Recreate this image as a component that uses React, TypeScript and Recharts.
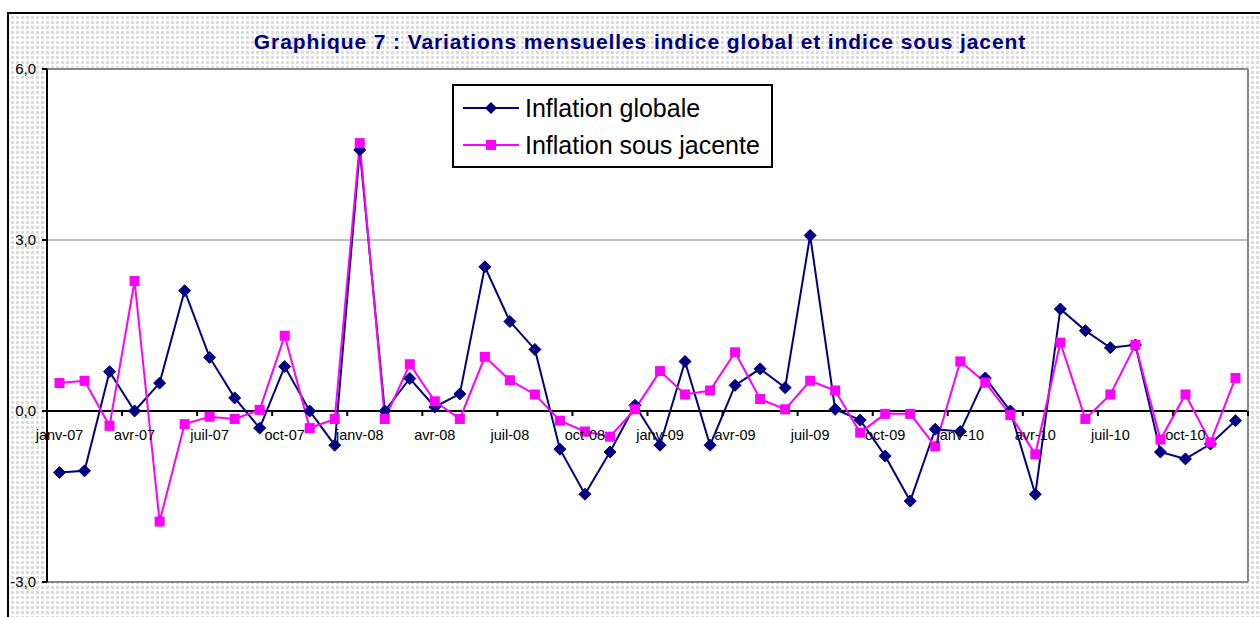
import React from "react";
import {
  LineChart,
  Line,
  XAxis,
  YAxis,
  CartesianGrid,
  ReferenceLine,
  Legend,
} from "recharts";

const months = [
  "janv-07", "févr-07", "mars-07", "avr-07", "mai-07", "juin-07",
  "juil-07", "août-07", "sept-07", "oct-07", "nov-07", "déc-07",
  "janv-08", "févr-08", "mars-08", "avr-08", "mai-08", "juin-08",
  "juil-08", "août-08", "sept-08", "oct-08", "nov-08", "déc-08",
  "janv-09", "févr-09", "mars-09", "avr-09", "mai-09", "juin-09",
  "juil-09", "août-09", "sept-09", "oct-09", "nov-09", "déc-09",
  "janv-10", "févr-10", "mars-10", "avr-10", "mai-10", "juin-10",
  "juil-10", "août-10", "sept-10", "oct-10", "nov-10", "déc-10",
];

const inflationGlobale = [
  -1.08, -1.05, 0.69, 0.0, 0.49, 2.11, 0.94, 0.23, -0.3, 0.78, 0.0, -0.6,
  4.58, 0.0, 0.57, 0.07, 0.3, 2.53, 1.57, 1.08, -0.67, -1.46, -0.72, 0.1,
  -0.6, 0.87, -0.6, 0.45, 0.74, 0.41, 3.08, 0.03, -0.16, -0.79, -1.58, -0.32,
  -0.36, 0.58, 0.0, -1.46, 1.79, 1.41, 1.11, 1.16, -0.72, -0.84, -0.58, -0.17,
];

const inflationSousJacente = [
  0.49, 0.53, -0.26, 2.28, -1.94, -0.23, -0.1, -0.14, 0.02, 1.32, -0.3, -0.14,
  4.7, -0.14, 0.82, 0.17, -0.14, 0.95, 0.54, 0.29, -0.17, -0.36, -0.45, 0.03,
  0.7, 0.29, 0.36, 1.03, 0.21, 0.03, 0.53, 0.36, -0.38, -0.05, -0.05, -0.62,
  0.87, 0.5, -0.07, -0.76, 1.2, -0.14, 0.29, 1.16, -0.5, 0.29, -0.55, 0.58,
];

const yTicks = [-3, 0, 3, 6];

const data = months.map((m, i) => ({
  mois: m,
  globale: inflationGlobale[i],
  sousJacente: inflationSousJacente[i],
}));

const NAVY = "#000080";
const MAGENTA = "#ff00ff";
const FONT = "'Liberation Sans', Arial, sans-serif";

// chart geometry
const W = 1260;
const H = 617;
const X_AXIS_H = 35;
const M = { top: 69, right: 11, left: 7, bottom: 0 };
const Y_AXIS_W = 40;
const PLOT_W = W - M.left - M.right - Y_AXIS_W - 1;
const PLOT_H = H - M.top - M.bottom - X_AXIS_H;
const STEP = PLOT_W / months.length;
const Y_MIN = -3;
const Y_MAX = 6;
const ZERO_Y = M.top + (PLOT_H * (Y_MAX - 0)) / (Y_MAX - Y_MIN);

const Diamond = (props: any) => {
  const { cx, cy } = props;
  if (cx == null || cy == null) return null;
  const r = 6;
  return (
    <polygon
      points={`${cx},${cy - r} ${cx + r},${cy} ${cx},${cy + r} ${cx - r},${cy}`}
      fill={NAVY}
      stroke={NAVY}
    />
  );
};

const Square = (props: any) => {
  const { cx, cy } = props;
  if (cx == null || cy == null) return null;
  const s = 10;
  return <rect x={cx - s / 2} y={cy - s / 2} width={s} height={s} fill={MAGENTA} />;
};

const MonthTick = (props: any) => {
  const { x, payload } = props;
  const bx = x - STEP / 2;
  return (
    <g>
      <line x1={bx} x2={bx} y1={ZERO_Y} y2={ZERO_Y + 5} stroke="#000" strokeWidth={2} />
      {payload.value === "oct-10" && (
        <line
          x1={bx + 3 * STEP}
          x2={bx + 3 * STEP}
          y1={ZERO_Y}
          y2={ZERO_Y + 5}
          stroke="#000"
          strokeWidth={2}
        />
      )}
      <text
        x={x}
        y={ZERO_Y + 29}
        textAnchor="middle"
        fontFamily={FONT}
        fontSize={14.5}
        fill="#000"
      >
        {payload.value}
      </text>
    </g>
  );
};

const LegendBox = () => (
  <div
    style={{
      position: "relative",
      width: 321,
      height: 84,
      boxSizing: "border-box",
      border: "2px solid #000",
      background: "#fff",
      fontFamily: FONT,
      fontSize: 25,
      color: "#000",
    }}
  >
    {[
      { label: "Inflation globale", color: NAVY, shape: "d", top: 22 },
      { label: "Inflation sous jacente", color: MAGENTA, shape: "s", top: 59 },
    ].map((it) => (
      <div key={it.label}>
        <svg
          width={56}
          height={16}
          style={{ position: "absolute", left: 9, top: it.top - 8 }}
        >
          <line x1={0} x2={56} y1={8} y2={8} stroke={it.color} strokeWidth={2} />
          {it.shape === "d" ? (
            <polygon points="28,2 34,8 28,14 22,8" fill={it.color} />
          ) : (
            <rect x={23} y={3} width={10} height={10} fill={it.color} />
          )}
        </svg>
        <span
          style={{
            position: "absolute",
            left: 71,
            top: it.top - 15,
            lineHeight: "30px",
            whiteSpace: "nowrap",
          }}
        >
          {it.label}
        </span>
      </div>
    ))}
  </div>
);

export default function App() {
  return (
    <div
      style={{
        position: "absolute",
        left: 0,
        top: 0,
        width: W,
        height: H,
        overflow: "hidden",
        background: "#fff",
      }}
    >
      <div
        style={{
          position: "absolute",
          left: 7,
          top: 12,
          width: W,
          height: H,
          borderTop: "2px solid #000",
          borderLeft: "2px solid #000",
          backgroundColor: "#dcdcdc",
          backgroundImage:
            "linear-gradient(to right, #fff 2px, transparent 2px), linear-gradient(to bottom, #fff 2px, transparent 2px)",
          backgroundSize: "5px 5px",
        }}
      />
      <div
        style={{
          position: "absolute",
          left: 0,
          top: 30,
          width: 1280,
          textAlign: "center",
          fontFamily: FONT,
          fontWeight: "bold",
          fontSize: 21,
          letterSpacing: 0.9,
          lineHeight: "24px",
          color: NAVY,
        }}
      >
        Graphique 7 : Variations mensuelles indice global et indice sous jacent
      </div>
      <div style={{ position: "absolute", left: 0, top: 0 }}>
        <LineChart width={W} height={H} data={data} margin={M}>
          <CartesianGrid
            vertical={false}
            stroke="#c0c0c0"
            strokeWidth={2}
            fill="#fff"
            fillOpacity={1}
          />
          <XAxis
            dataKey="mois"
            interval={2}
            height={X_AXIS_H}
            axisLine={false}
            tickLine={false}
            tick={<MonthTick />}
            padding={{ left: STEP / 2, right: STEP / 2 }}
          />
          <YAxis
            domain={[Y_MIN, Y_MAX]}
            ticks={yTicks}
            width={Y_AXIS_W}
            axisLine={{ stroke: "#000", strokeWidth: 2 }}
            tickLine={{ stroke: "#000", strokeWidth: 2 }}
            tickSize={5}
            tickMargin={6}
            tickFormatter={(v: number) => v.toFixed(1).replace(".", ",")}
            tick={{ fill: "#000", fontSize: 15, fontFamily: FONT }}
          />
          <YAxis
            yAxisId="droite"
            orientation="right"
            width={1}
            tick={false}
            tickLine={false}
            axisLine={{ stroke: "#888", strokeWidth: 2 }}
          />
          <ReferenceLine y={Y_MAX} stroke="#888" strokeWidth={2} />
          <ReferenceLine y={Y_MIN} stroke="#888" strokeWidth={2} />
          <ReferenceLine y={0} stroke="#000" strokeWidth={2} />
          <Legend
            layout="horizontal"
            verticalAlign="middle"
            align="center"
            content={<LegendBox />}
            wrapperStyle={{ left: 452, top: 84, width: 321, height: 84 }}
          />
          <Line
            type="linear"
            dataKey="globale"
            name="Inflation globale"
            stroke={NAVY}
            strokeWidth={2}
            dot={<Diamond />}
            activeDot={false}
            isAnimationActive={false}
          />
          <Line
            type="linear"
            dataKey="sousJacente"
            name="Inflation sous jacente"
            stroke={MAGENTA}
            strokeWidth={2}
            dot={<Square />}
            activeDot={false}
            isAnimationActive={false}
          />
        </LineChart>
      </div>
    </div>
  );
}
